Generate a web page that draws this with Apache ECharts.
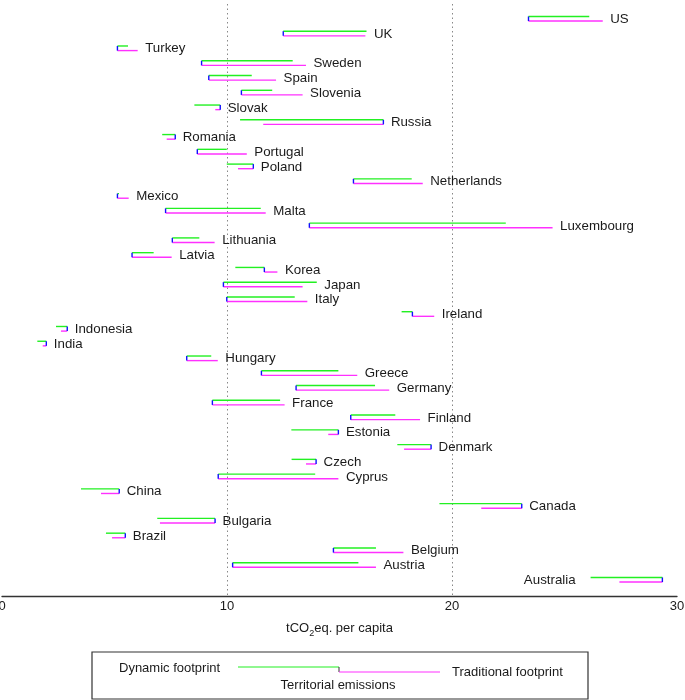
<!DOCTYPE html>
<html>
<head>
<meta charset="utf-8">
<script src="https://cdn.jsdelivr.net/npm/echarts@6/dist/echarts.min.js"></script>
<style>
  html, body { margin: 0; padding: 0; background: #fff; }
  #chart { width: 685px; height: 700px; }
</style>
</head>
<body>
<div id="chart"></div>
<script>
// countries top to bottom
var countries = ['US', 'UK', 'Turkey', 'Sweden', 'Spain', 'Slovenia', 'Slovak', 'Russia', 'Romania', 'Portugal',
  'Poland', 'Netherlands', 'Mexico', 'Malta', 'Luxembourg', 'Lithuania', 'Latvia', 'Korea', 'Japan', 'Italy',
  'Ireland', 'Indonesia', 'India', 'Hungary', 'Greece', 'Germany', 'France', 'Finland', 'Estonia', 'Denmark',
  'Czech', 'Cyprus', 'China', 'Canada', 'Bulgaria', 'Brazil', 'Belgium', 'Austria', 'Australia']

// tCO2eq. per capita
var territorial = [23.4, 12.5, 5.13, 8.87, 9.19, 10.64, 9.7, 16.95, 7.7, 8.68,
  11.17, 15.62, 5.13, 7.27, 13.66, 7.57, 5.78, 11.66, 9.84, 9.99,
  18.24, 2.9, 1.97, 8.21, 11.53, 13.07, 9.35, 15.5, 14.95, 19.07,
  13.96, 9.61, 5.21, 23.1, 9.47, 5.48, 14.73, 10.25, 29.35]
var dynamic = [26.1, 16.2, 5.6, 12.92, 11.1, 12.01, 8.55, 10.58, 7.12, 9.99,
  9.99, 18.21, 5.2, 11.5, 22.39, 8.77, 6.74, 10.37, 13.99, 13.01,
  17.76, 2.4, 1.57, 9.3, 14.95, 16.58, 12.36, 17.48, 12.86, 17.57,
  12.87, 13.92, 3.51, 19.44, 6.9, 4.62, 16.62, 15.84, 26.16]
var traditional = [26.7, 16.15, 6.03, 13.51, 12.18, 13.36, 9.48, 11.61, 7.32, 10.88,
  10.49, 18.7, 5.63, 11.72, 24.47, 9.45, 7.54, 12.24, 13.36, 13.57,
  19.21, 2.62, 1.81, 9.59, 15.79, 17.21, 12.56, 18.58, 14.5, 17.87,
  13.51, 14.95, 4.4, 21.3, 7.02, 4.89, 17.84, 16.62, 27.44]

var GREEN = '#22f022'
var MAGENTA = '#ff30ff'
var BLUE = '#1010ff'
var FONT = 'Liberation Sans, Arial, sans-serif'

var chart = echarts.init(document.getElementById('chart'))

var rows = countries.map(function (c, i) {
  return [i, territorial[i], dynamic[i], traditional[i]]
})

function renderRow(params, api) {
  var i = api.value(0)
  var t = api.coord([api.value(1), i])
  var d = api.coord([api.value(2), i])
  var r = api.coord([api.value(3), i])
  var y = t[1]
  var off = 2.3
  var right = Math.max(t[0], d[0], r[0])
  var left = Math.min(t[0], d[0], r[0])
  var toLeft = right > 640
  return {
    type: 'group',
    children: [
      { type: 'line', shape: { x1: t[0], y1: y - off, x2: d[0], y2: y - off }, style: { stroke: GREEN, lineWidth: 1.4 } },
      { type: 'line', shape: { x1: t[0], y1: y + off, x2: r[0], y2: y + off }, style: { stroke: MAGENTA, lineWidth: 1.4 } },
      { type: 'line', shape: { x1: t[0], y1: y - off, x2: t[0], y2: y + off }, style: { stroke: BLUE, lineWidth: 1.4 } },
      {
        type: 'text',
        style: {
          text: countries[params.dataIndex],
          x: toLeft ? left - 15 : right + 7.5,
          y: y + 0.5,
          fill: '#1a1a1a',
          fontSize: 13.3,
          fontFamily: FONT,
          align: toLeft ? 'right' : 'left',
          verticalAlign: 'middle'
        }
      }
    ]
  }
}

chart.setOption({
  animation: false,
  backgroundColor: '#fff',
  grid: { left: 2, right: 8, top: 4, bottom: 104, outerBoundsMode: 'none', containLabel: false },
  xAxis: {
    type: 'value',
    position: 'bottom',
    min: 0,
    max: 30,
    interval: 10,
    axisLine: { onZero: false, lineStyle: { color: '#333', width: 1.3 } },
    axisTick: { show: false },
    axisLabel: { color: '#1a1a1a', fontSize: 13, fontFamily: FONT, margin: 4 },
    splitLine: {
      show: true,
      showMinLine: false,
      showMaxLine: false,
      lineStyle: { color: '#888', width: 1, type: [1.5, 3] }
    },
    name: 'tCO{sub|2}eq. per capita',
    nameLocation: 'middle',
    nameGap: 22,
    nameTextStyle: {
      color: '#1a1a1a',
      fontSize: 13,
      fontFamily: FONT,
      rich: {
        sub: { fontSize: 9, fontFamily: FONT, color: '#1a1a1a', verticalAlign: 'bottom', lineHeight: 20 }
      }
    }
  },
  yAxis: {
    type: 'value',
    min: -1,
    max: 39.1,
    inverse: true,
    show: false
  },
  series: [{
    type: 'custom',
    renderItem: renderRow,
    data: rows,
    encode: { x: [1, 2, 3], y: 0 }
  }],
  graphic: [
    { type: 'rect', shape: { x: 92, y: 652, width: 496, height: 47 }, style: { fill: 'none', stroke: '#333', lineWidth: 1.2 } },
    { type: 'text', style: { text: 'Dynamic footprint', x: 119, y: 668, fill: '#1a1a1a', fontSize: 13, fontFamily: FONT, verticalAlign: 'middle' } },
    { type: 'line', shape: { x1: 238, y1: 667, x2: 339, y2: 667 }, style: { stroke: GREEN, lineWidth: 1.2 } },
    { type: 'line', shape: { x1: 339, y1: 667, x2: 339, y2: 672 }, style: { stroke: '#333', lineWidth: 1 } },
    { type: 'line', shape: { x1: 339, y1: 672, x2: 440, y2: 672 }, style: { stroke: MAGENTA, lineWidth: 1.2 } },
    { type: 'text', style: { text: 'Traditional footprint', x: 452, y: 672, fill: '#1a1a1a', fontSize: 13, fontFamily: FONT, verticalAlign: 'middle' } },
    { type: 'text', style: { text: 'Territorial emissions', x: 338, y: 685, fill: '#1a1a1a', fontSize: 13, fontFamily: FONT, align: 'center', verticalAlign: 'middle' } }
  ]
})
</script>
</body>
</html>
